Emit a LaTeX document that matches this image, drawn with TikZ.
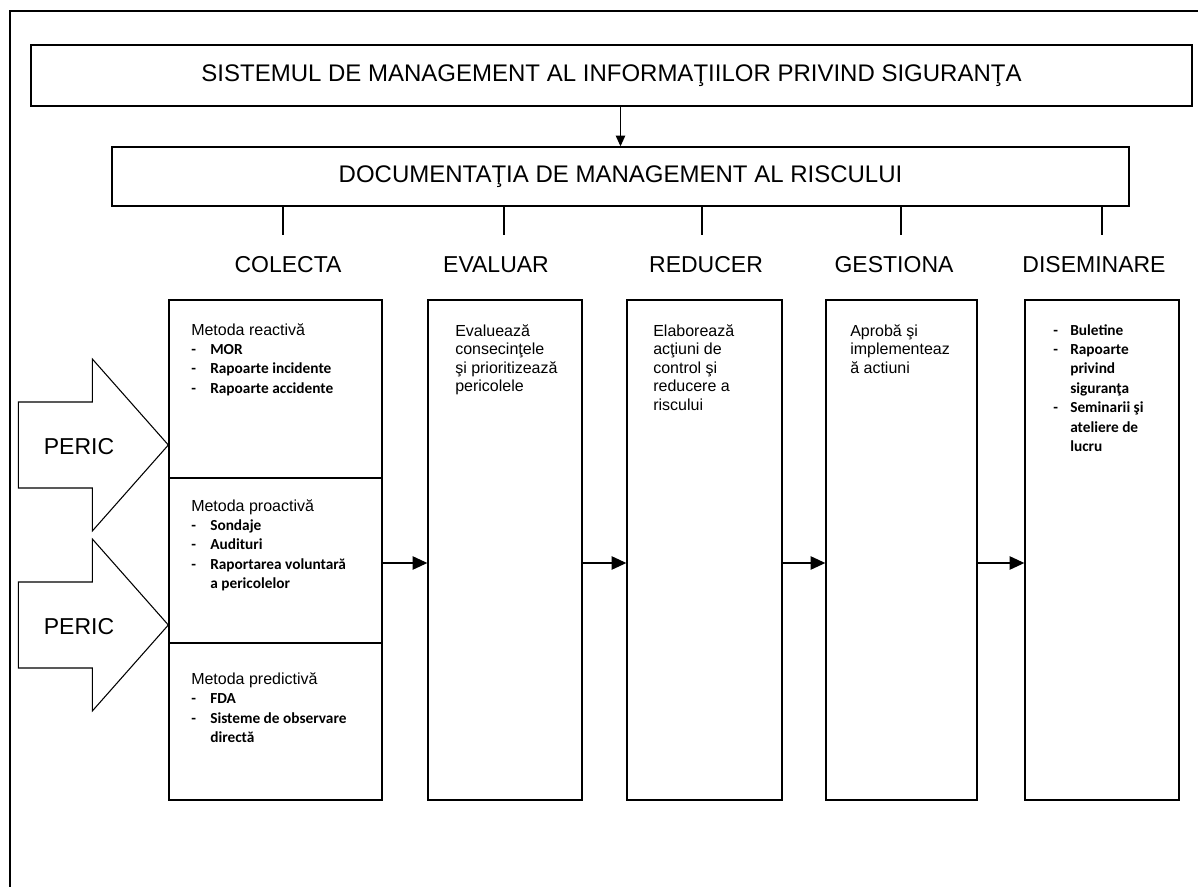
\documentclass[tikz,border=0pt]{standalone}
\usepackage{fontspec}
\setmainfont{Liberation Sans}
\newfontfamily\calibri{Carlito}
\usetikzlibrary{arrows.meta,fit}

\tikzset{
  box/.style={draw, line width=1pt, inner sep=0pt},
  flow/.style={-{Triangle[length=11pt,width=10pt]}, line width=1pt},
  title/.style={font=\fontsize{18}{21}\selectfont},
  head/.style={font=\fontsize{17.25}{20}\selectfont},
  body/.style={anchor=north west, inner sep=0pt, align=left, font=\fontsize{12}{13.9}\selectfont},
  list/.style={body, font=\fontsize{12}{14.6}\selectfont},
}
\newcommand{\itm}[2][14.25pt]{\makebox[#1][l]{\calibri\fontsize{11.5}{14.6}\selectfont\bfseries -}{\calibri\fontsize{11.5}{14.6}\selectfont\bfseries #2}}
\newcommand{\cnt}[2][14.25pt]{\hspace*{#1}{\calibri\fontsize{11.5}{14.6}\selectfont\bfseries #2}}

\begin{document}
\begin{tikzpicture}[x=0.75pt,y=-0.75pt]
  \useasboundingbox (0,0) rectangle (1198,887);
  % outer frame
  \draw[line width=1pt] (1198,11) -- (10,11) -- (10,887);

  % top boxes
  \node[box, line width=1.5pt, fit={(31,45) (1192,106)},
    label={[title]center:SISTEMUL DE MANAGEMENT AL INFORMAŢIILOR PRIVIND SIGURANŢA}] (sys) {};
  \node[box, fit={(112,147) (1129,206)},
    label={[title]center:DOCUMENTAŢIA DE MANAGEMENT AL RISCULUI}] (doc) {};
  \draw[-{Triangle[length=8pt,width=7pt]}, line width=1pt] (sys.south -| doc.north) -- (doc.north);

  % ticks and column headers
  \foreach \tx/\n in {283/1,504/2,702/3,901/4,1102/5}
    \coordinate (t\n) at (\tx,235);
  \foreach \n in {1,...,5}
    \draw[line width=1pt] (doc.south -| t\n) -- (t\n);
  \node[head] (h1) at (288,265) {COLECTA};
  \node[head] (h2) at (496,265) {EVALUAR};
  \node[head] (h3) at (706,265) {REDUCER};
  \node[head] (h4) at (894,265) {GESTIONA};
  \node[head] (h5) at (1094,265) {DISEMINARE};

  % column boxes
  \node[box, fit={(169,300) (382,800)}] (c1) {};
  \node[box, fit={(428,300) (582,800)}] (c2) {};
  \node[box, fit={(627,300) (782,800)}] (c3) {};
  \node[box, fit={(826,300) (977,800)}] (c4) {};
  \node[box, fit={(1025,300) (1179,800)}] (c5) {};
  \coordinate (d1) at (0,478);
  \coordinate (d2) at (0,643);
  \draw[line width=1pt] (c1.west |- d1) -- (c1.east |- d1);
  \draw[line width=1pt] (c1.west |- d2) -- (c1.east |- d2);

  % box texts
  \node[list] (reac) at (191,323) {Metoda reactivă\\ \itm{MOR}\\ \itm{Rapoarte incidente}\\ \itm{Rapoarte accidente}};
  \node[list] (proac) at (191,499) {Metoda proactivă\\ \itm{Sondaje}\\ \itm{Audituri}\\ \itm{Raportarea voluntară}\\ \cnt{a pericolelor}};
  \node[list] (pred) at (191,672) {Metoda predictivă\\ \itm{FDA}\\ \itm{Sisteme de observare}\\ \cnt{directă}};
  \node[body] (eval) at (455,324) {Evaluează\\ consecinţele\\ şi prioritizează\\ pericolele};
  \node[body] (red) at (653,324) {Elaborează\\ acţiuni de\\ control şi\\ reducere a\\ riscului};
  \node[body] (gest) at (850,324) {Aprobă şi\\ implementeaz\\ ă actiuni};
  \node[list] (dis) at (1053,324) {\itm[12.75pt]{Buletine}\\ \itm[12.75pt]{Rapoarte}\\ \cnt[12.75pt]{privind}\\ \cnt[12.75pt]{siguranţa}\\ \itm[12.75pt]{Seminarii şi}\\ \cnt[12.75pt]{ateliere de}\\ \cnt[12.75pt]{lucru}};

  % flow arrows
  \coordinate (fy) at (0,563);
  \foreach \a/\b in {c1/c2,c2/c3,c3/c4,c4/c5}
    \draw[flow] (\a.east |- fy) -- (\b.west |- fy);

  % hazard arrows
  \foreach \ty/\n in {445/1,625/2}{
    \draw[line width=0.8pt] (c1.west |- 0,\ty) -- ++(-76,-86) -- ++(0,43) -- ++(-74,0)
      -- ++(0,86) -- ++(74,0) -- ++(0,43) -- cycle;
    \node[head] (p\n) at (79,\ty+2) {PERIC};
  }
\end{tikzpicture}
\end{document}
